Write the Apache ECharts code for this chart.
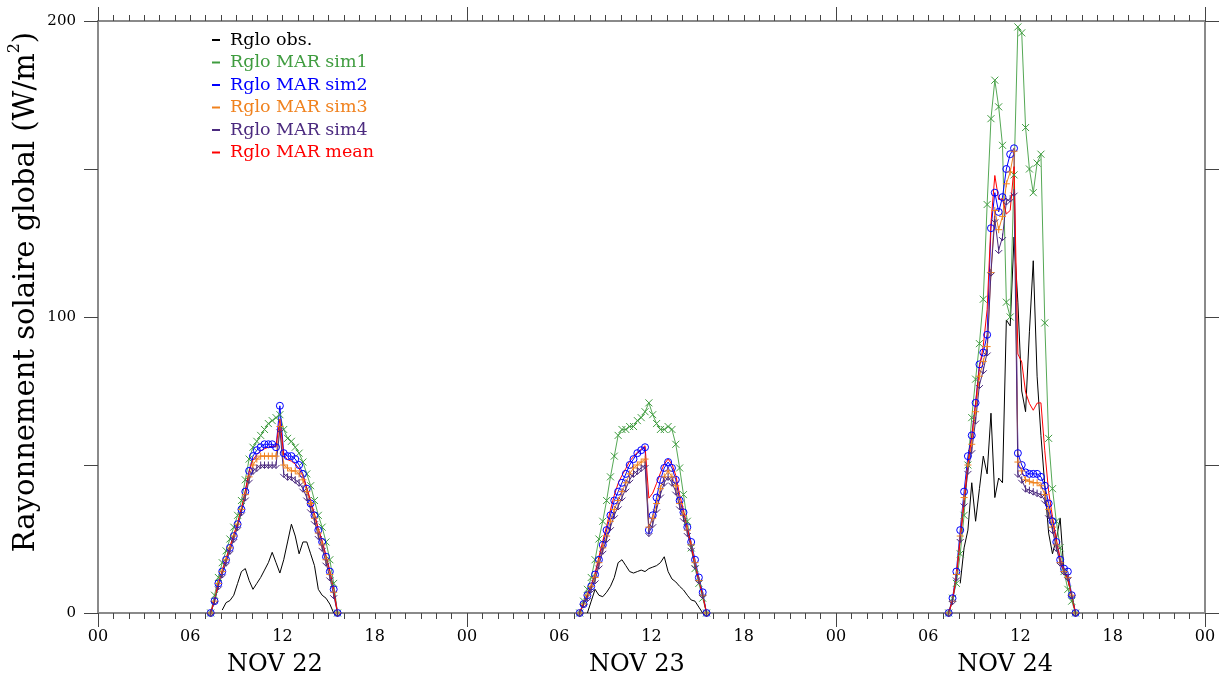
<!DOCTYPE html>
<html>
<head>
<meta charset="utf-8">
<script src="https://cdn.jsdelivr.net/npm/echarts@6/dist/echarts.min.js"></script>
<style>html,body{margin:0;padding:0;background:#fff;}#c{width:1221px;height:677px;}</style>
</head>
<body>
<div id="c"></div>
<script>
// ---- DATA ----
// sample times (hour of day), every 15 minutes
const hours = [7.33,7.58,7.83,8.08,8.33,8.58,8.83,9.08,9.33,9.58,9.83,10.08,10.33,10.58,10.83,11.08,11.33,11.58,11.83,12.08,12.33,12.58,12.83,13.08,13.33,13.58,13.83,14.08,14.33,14.58,14.83,15.08,15.33,15.58];
const dayOffsets = [0, 24, 48];
const dayLabels = ['NOV 22', 'NOV 23', 'NOV 24'];
const xTickLabels = ['00','06','12','18','00','06','12','18','00','06','12','18','00'];
const yTickLabels = ['0','','100','','200'];

const obs1 = [null,null,null,1,3.5,4.2,6,10,14,15,11,8,10,12,14.5,17,20.5,17,13.5,18,24,30,26,20,24,24,20,16,8,6,5,3,0,null];
const obs2 = [null,null,0,4,8,6,5.5,7,9,12,17,18,16,14,13.5,14,14.5,14,15,15.5,16,17,19,14,11.5,10.5,9,7.8,6,4.4,4,2,0,null];
const obs3 = [null,null,null,10,22,28,44,31,42,53,47,67.5,39,45.6,44,99,97,127,105,75,68,95,119,80,60,43,27,20,25,32,14,11,6,0];

const sim1d1 = [0,6,12,17,21,25,29,33,38,45,52,56,58,60,62,64,65,66,67,62,59,58,56,54,51,47,43,38,33,29,24,18,10,0];
const sim1d2 = [0,4,8,12,18,25,31,38,46,53,60,62,62,63,63,65,66,68,71,67,64,62,62,63,62,57,49,40,31,22,15,10,5,0];
const sim1d3 = [0,5,10,20,33,50,66,79,91,106,138,167,180,171,158,105,100,148,198,196,164,150,142,152,155,98,59,42,31,22,14,8,4,0];

const sim2d1 = [0,4,10,14,18,22,26,30,35,41,48,53,55,56,57,57,57,56,70,54,53,53,52,50,47,42,37,33,28,24,19,14,8,0];
const sim2d2 = [0,3,6,9,13,18,23,28,33,38,41,44,47,50,52,54,55,56,28,33,39,45,49,51,49,45,38,34,29,24,18,12,7,0];
const sim2d3 = [0,5,14,28,41,53,60,71,84,88,94,130,142,135.5,140.5,150,155,157,54,50,47.5,47,47,47,46,43,37,31,24,18,15,14,6,0];

const sim3d1 = [0,4,10,14,18,22,26,30,35,40,46,50,52,53,53,53,53,53,63,50,49,48,48,47,45,41,37,32,27,23,18,13,7,0];
const sim3d2 = [0,3,6,9,12,17,22,26,31,35,38,41,44,47,49,50,51,52,29,32,37,42,46,48,46,43,37,33,28,23,17,11,6,0];
const sim3d3 = [0,4,13,26,39,50,57,68,80,85,90,115,136,129.5,134,145,149,156,51,48,45,44.5,44,44,43,40,35,29,23,17,14,12,6,0];

const sim4d1 = [0,4,9,13,17,21,25,29,34,39,45,48,49,50,50,50,50,50,62,47,46,46,45,44,42,39,35,31,26,22,17,12,6,0];
const sim4d2 = [0,3,5,8,11,16,21,25,29,33,36,39,42,45,47,48,49,50,27,30,35,40,44,46,44,41,36,32,27,22,16,11,6,0];
const sim4d3 = [0,4,12,25,37,48,55,65,77,82,88,115,133,122.6,127,139,140,142,47,45,42,41.5,41,40.5,40,38,33,28,22,17,14,12,6,0];

const meand1 = [0,4.5,10.3,14.5,18.5,22.5,26.5,30.5,35.5,41.3,47.8,51.8,53.5,54.8,55.5,56,56.3,56.3,65.5,53.3,51.8,51.3,50.3,48.8,46.3,42.3,38,33.5,28.5,24.5,19.5,14.3,7.8,0];
const meand2 = [0,3.3,6.3,9.5,13.5,19,24.3,29.3,34.8,39.8,43.8,46.5,48.8,51.3,52.8,54.3,55.3,56.5,38.8,40.5,43.8,47.3,50.3,52,50.3,46.5,40,34.8,28.8,22.8,16.5,11,6,0];
const meand3 = [0,4.5,12.3,24.8,37.5,50.3,59.5,70.8,83,90.3,102.5,131.8,147.8,139.7,139.9,134.8,136,150.8,87.5,84.8,74.6,70.8,68.5,70.9,71,54.8,41,32.5,25,18.5,14.3,11.5,5.5,0];

// ---- STYLE ----
const FONT = 'DejaVu Serif';
const defs = [
  {name:'Rglo obs.',      color:'#000000', line:'#000000', days:[obs1,obs2,obs3],       symbol:'none'},
  {name:'Rglo MAR sim1',  color:'#3f9c3f', line:'#55a855', days:[sim1d1,sim1d2,sim1d3], symbol:'path://M0,0L10,10M10,0L0,10'},
  {name:'Rglo MAR sim2',  color:'#0000ff', line:'#0000ff', days:[sim2d1,sim2d2,sim2d3], symbol:'circle'},
  {name:'Rglo MAR sim3',  color:'#f0821e', line:'#f0821e', days:[sim3d1,sim3d2,sim3d3], symbol:'path://M5,0L5,10M0,5L10,5'},
  {name:'Rglo MAR sim4',  color:'#4b2a7f', line:'#4b2a7f', days:[sim4d1,sim4d2,sim4d3], symbol:'path://M5,0L5,10M0,5L5,10L10,5'},
  {name:'Rglo MAR mean',  color:'#ff0000', line:'#ff0000', days:[meand1,meand2,meand3], symbol:'none'}
];

function build(days) {
  const out = [];
  days.forEach((vals, d) => {
    vals.forEach((v, i) => { if (v !== null) out.push([dayOffsets[d] + hours[i], v]); });
    out.push([dayOffsets[d] + 20, null]);
  });
  return out;
}

const series = defs.map(d => ({
  name: d.name,
  type: 'line',
  data: build(d.days),
  xAxisIndex: 0, yAxisIndex: 0,
  symbol: d.symbol,
  symbolSize: 7,
  showSymbol: d.symbol !== 'none',
  connectNulls: false,
  lineStyle: {color: d.line, width: 1},
  itemStyle: {color: 'none', borderColor: d.color, borderWidth: 1},
  emphasis: {disabled: true},
  silent: true,
  animation: false
}));

const axisLineStyle = {color: '#8a8a8a', width: 2};
const tickStyle = {color: '#444', width: 1};

const chart = echarts.init(document.getElementById('c'), null, {renderer: 'canvas'});
chart.setOption({
  backgroundColor: '#ffffff',
  animation: false,
  grid: {left: 98, right: 16, top: 21, bottom: 64, outerBoundsMode: 'none', containLabel: false},
  xAxis: [
    {type:'value', min:0, max:72, interval:6, position:'bottom',
     axisLine:{show:true, onZero:false, lineStyle:axisLineStyle},
     axisTick:{show:true, length:6, lineStyle:tickStyle},
     minorTick:{show:true, splitNumber:6, length:6, lineStyle:tickStyle},
     splitLine:{show:false}, minorSplitLine:{show:false},
     axisLabel:{show:true, margin:16, fontFamily:FONT, fontSize:16, color:'#000',
       formatter: v => xTickLabels[Math.round(v/6)]}},
    {type:'value', min:0, max:72, interval:24, position:'bottom',
     axisLine:{show:false, onZero:false}, axisTick:{show:true, length:14, lineStyle:tickStyle},
     axisLabel:{show:false}, splitLine:{show:false}},
    {type:'value', min:0, max:72, interval:6, position:'top',
     axisLine:{show:true, onZero:false, lineStyle:axisLineStyle},
     axisTick:{show:true, length:6, lineStyle:tickStyle},
     minorTick:{show:true, splitNumber:6, length:6, lineStyle:tickStyle},
     axisLabel:{show:false}, splitLine:{show:false}},
    {type:'value', min:0, max:72, interval:24, position:'top',
     axisLine:{show:false, onZero:false}, axisTick:{show:true, length:14, lineStyle:tickStyle},
     axisLabel:{show:false}, splitLine:{show:false}}
  ],
  yAxis: [
    {type:'value', min:0, max:200, interval:50, position:'left',
     axisLine:{show:true, onZero:false, lineStyle:axisLineStyle},
     axisTick:{show:true, length:14, lineStyle:tickStyle},
     splitLine:{show:false},
     axisLabel:{show:true, margin:22, fontFamily:FONT, fontSize:15, color:'#000',
       formatter: v => yTickLabels[Math.round(v/50)]}},
    {type:'value', min:0, max:200, interval:50, position:'right',
     axisLine:{show:true, onZero:false, lineStyle:axisLineStyle},
     axisTick:{show:true, length:14, lineStyle:tickStyle},
     splitLine:{show:false}, axisLabel:{show:false}}
  ],
  legend: {
    orient:'vertical', left:207, top:24, icon:'rect', itemWidth:8, itemHeight:2,
    itemGap:0.5, selectedMode:false,
    textStyle:{fontFamily:FONT, fontSize:17.5, lineHeight:22, padding:[0,0,0,5]},
    data: defs.map(d => ({name:d.name, itemStyle:{color:d.color, borderWidth:0},
      textStyle:{color:d.color}}))
  },
  series: series
});

// day labels and y-axis title
const graphics = dayLabels.map((t, i) => {
  const px = chart.convertToPixel({xAxisIndex:0}, dayOffsets[i] + [11.5, 11.05, 11.0][i]);
  return {type:'text', x: px, y: 665, silent:true,
    style:{text:t, fontFamily:FONT, fontSize:24, fill:'#000', align:'center', verticalAlign:'middle'}};
});
graphics.push({
  type:'text', x: 24, y: 292, rotation: Math.PI/2, silent:true,
  style:{
    text:'{n|Rayonnement solaire global (W/m}{s|2}{n|)}',
    align:'center', verticalAlign:'middle',
    rich:{
      n:{fontFamily:FONT, fontSize:29, fill:'#000', lineHeight:34, verticalAlign:'bottom'},
      s:{fontFamily:FONT, fontSize:16, fill:'#000', lineHeight:34, verticalAlign:'top'}
    }
  }
});
chart.setOption({graphic: graphics});
</script>
</body>
</html>
